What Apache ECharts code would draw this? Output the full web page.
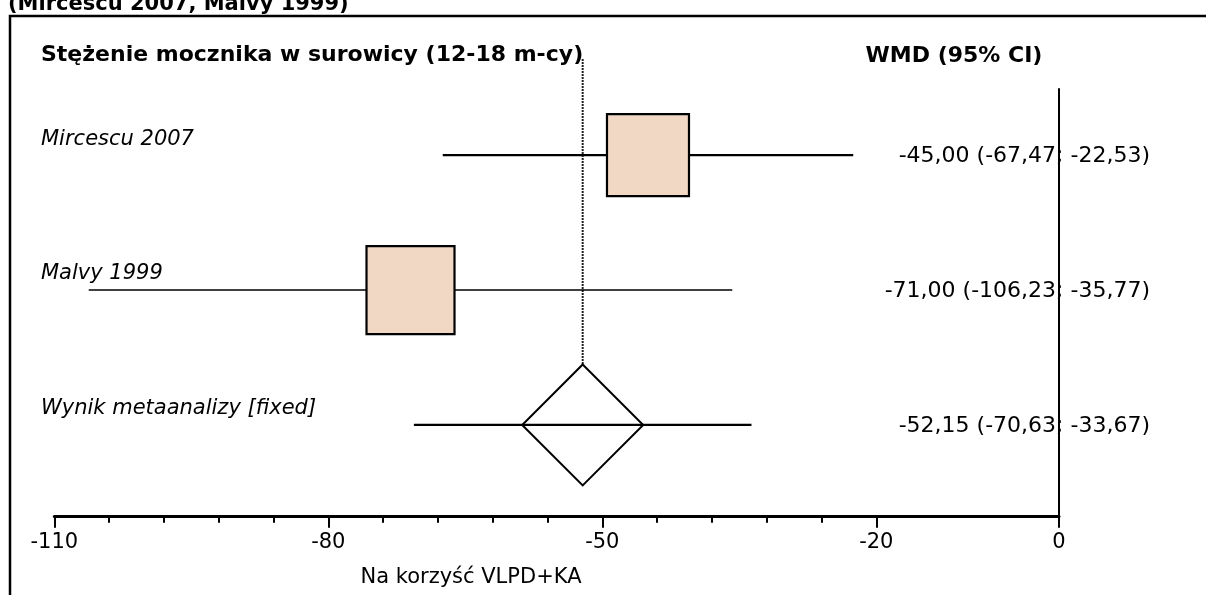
<!DOCTYPE html>
<html>
<head>
<meta charset="utf-8">
<script src="https://cdn.jsdelivr.net/npm/echarts@6/dist/echarts.min.js"></script>
<style>
html,body{margin:0;padding:0;background:#fff;}
#chart{width:1206px;height:595px;}
</style>
</head>
<body>
<div id="chart"></div>
<script>
// ---- data ----
const studies = ['Mircescu 2007', 'Malvy 1999', 'Wynik metaanalizy [fixed]'];
const estimate = [-45.00, -71.00, -52.15];
const lowerCI = [-67.47, -106.23, -70.63];
const upperCI = [-22.53, -35.77, -33.67];
const pooled = [false, false, true];
const majorTicks = [-110, -80, -50, -20, 0];
const minorTicks = [-104, -98, -92, -86, -74, -68, -62, -56, -44, -38, -32, -26];
const headerLeft = 'Stężenie mocznika w surowicy (12-18 m-cy)';
const headerRight = 'WMD (95% CI)';
const axisNameText = 'Na korzyść VLPD+KA';
const topTitle = '(Mircescu 2007, Malvy 1999)';

// ---- styles ----
const FONT = 'DejaVu Sans';
const boxSizes = [82, 88];
const boxFill = '#f0d8c4';
const diamondHalf = 60.5;

function fmt(v){ return v.toFixed(2).replace('.', ','); }

const seriesData = studies.map((s, i) => [estimate[i], i, lowerCI[i], upperCI[i]]);

const chart = echarts.init(document.getElementById('chart'), null, {renderer: 'canvas'});

const option = {
  backgroundColor: '#fff',
  animation: false,
  grid: {left: 54.3, right: 147, top: 89, bottom: 78.3},
  xAxis: [
    {
      type: 'value', min: -110, max: 0, position: 'bottom',
      axisLine: {show: true, onZero: false, lineStyle: {color: '#000', width: 3}},
      axisTick: {show: true, customValues: majorTicks, length: 11, lineStyle: {color: '#000', width: 2}},
      axisLabel: {show: true, customValues: majorTicks, fontSize: 21, color: '#000', fontFamily: FONT, margin: 15},
      splitLine: {show: false}
    },
    {
      type: 'value', min: -110, max: 0, position: 'bottom', offset: 0,
      axisLine: {show: false, onZero: false},
      axisTick: {show: true, customValues: minorTicks, length: 6, lineStyle: {color: '#000', width: 2}},
      axisLabel: {show: false},
      splitLine: {show: false}
    }
  ],
  yAxis: {
    type: 'value', min: -0.49, max: 2.68, inverse: true, position: 'right',
    axisLine: {show: true, onZero: false, lineStyle: {color: '#000', width: 2}},
    axisTick: {show: false}, axisLabel: {show: false}, splitLine: {show: false}
  },
  graphic: [
    {type: 'polyline', shape: {points: [[10, 600], [10, 16], [1210, 16]]}, style: {stroke: '#000', lineWidth: 2.5, fill: null}},
    {type: 'text', x: 8, y: 15, style: {text: topTitle, font: 'bold 21px "' + FONT + '"', fill: '#000', verticalAlign: 'bottom', align: 'left'}},
    {type: 'text', x: 41, y: 55, style: {text: headerLeft, font: 'bold 22px "' + FONT + '"', fill: '#000', verticalAlign: 'middle', align: 'left'}},
    {type: 'text', x: 954, y: 56, style: {text: headerRight, font: 'bold 22px "' + FONT + '"', fill: '#000', verticalAlign: 'middle', align: 'center'}},
    {type: 'text', x: 471, y: 578, style: {text: axisNameText, font: '21px "' + FONT + '"', fill: '#000', verticalAlign: 'middle', align: 'center'}}
  ],
  series: [{
    type: 'custom',
    clip: false,
    xAxisIndex: 0,
    encode: {x: [0, 2, 3], y: 1},
    data: seriesData,
    renderItem: function (params, api) {
      const i = params.dataIndex;
      const est = api.value(0), row = api.value(1), lo = api.value(2), hi = api.value(3);
      const pE = api.coord([est, row]);
      const pLo = api.coord([lo, row]);
      const pHi = api.coord([hi, row]);
      const zeroX = api.coord([0, row])[0];
      const children = [];
      if (pooled[i]) {
        children.push({type: 'line', z2: 1, shape: {x1: pE[0], y1: 59, x2: pE[0], y2: pE[1] - diamondHalf},
          style: {stroke: '#222', lineWidth: 2, lineDash: [2, 1]}});
      }
      children.push({type: 'line', z2: 2, shape: {x1: pLo[0], y1: pLo[1], x2: pHi[0], y2: pHi[1]},
        style: {stroke: '#000', lineWidth: i === 1 ? 1.6 : 2.2}});
      if (pooled[i]) {
        const h = diamondHalf;
        children.push({type: 'polygon', z2: 3, shape: {points: [[pE[0], pE[1] - h], [pE[0] + h, pE[1]], [pE[0], pE[1] + h], [pE[0] - h, pE[1]]]},
          style: {fill: 'none', stroke: '#000', lineWidth: 2}});
      } else {
        const s = boxSizes[i];
        children.push({type: 'rect', z2: 3, shape: {x: pE[0] - s / 2, y: pE[1] - s / 2, width: s, height: s},
          style: {fill: boxFill, stroke: '#000', lineWidth: 2.2}});
      }
      children.push({type: 'text', z2: 4, x: 41, y: pE[1] - 16,
        style: {text: studies[i], font: 'italic 21px "' + FONT + '"', fill: '#000', align: 'left', verticalAlign: 'middle'}});
      children.push({type: 'text', z2: 4, x: zeroX + 91, y: pE[1] + 1,
        style: {text: fmt(est) + ' (' + fmt(lo) + '; ' + fmt(hi) + ')', font: '22px "' + FONT + '"', fill: '#000', align: 'right', verticalAlign: 'middle'}});
      return {type: 'group', children: children};
    }
  }]
};
chart.setOption(option);
</script>
</body>
</html>
